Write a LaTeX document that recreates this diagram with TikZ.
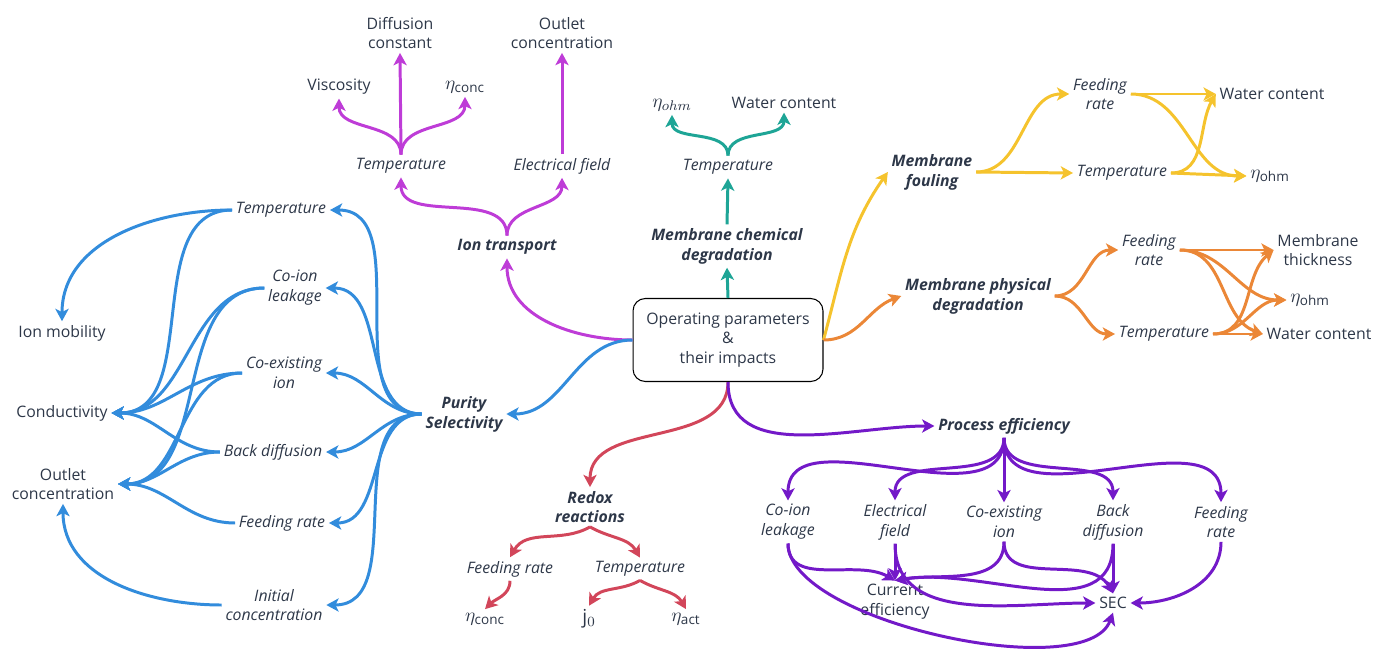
\documentclass[tikz,border=0pt]{standalone}
\usepackage{fontspec}
\setmainfont{Open Sans}
\usetikzlibrary{arrows.meta}
\definecolor{ink}{RGB}{45,55,72}
\definecolor{iontc}{RGB}{190,60,215}
\definecolor{chemc}{RGB}{30,165,150}
\definecolor{foulc}{RGB}{245,195,45}
\definecolor{physc}{RGB}{235,135,55}
\definecolor{purc}{RGB}{50,140,220}
\definecolor{redc}{RGB}{210,70,90}
\definecolor{procc}{RGB}{115,25,200}
\begin{document}
\begin{tikzpicture}[x=0.02cm,y=-0.02cm,
    lbl/.style={text=ink,align=center,inner sep=2pt,font=\fontsize{9}{11.3}\selectfont},
    par/.style={lbl,font=\fontsize{9}{11.3}\selectfont\itshape},
    hd/.style={lbl,font=\fontsize{9}{11.3}\selectfont\bfseries\itshape},
    sym/.style={lbl,font=\fontsize{11}{13}\selectfont},
    link/.style={-{Stealth[length=7pt,width=7.5pt,inset=1.8pt]},line width=1.7pt}]
  \useasboundingbox (0,0) rectangle (1375,652);

  \node[lbl,draw=black,line width=0.6pt,rounded corners=7pt,minimum width=3.8cm,minimum height=1.66cm] (main) at (728,340) {Operating parameters\\\&\\their impacts};

  %ion transport
  \node[hd] (ion) at (507,247) {Ion transport};
  \node[par] (ittemp) at (401,166) {Temperature};
  \node[par] (itfield) at (562,166) {Electrical field};
  \node[lbl] (itvisc) at (339,87) {Viscosity};
  \node[lbl] (itdiff) at (400,33) {Diffusion\\constant};
  \node[sym] (iteta) at (465,87) {$\eta_{\mathrm{conc}}$};
  \node[lbl] (itout) at (562,33) {Outlet\\concentration};
  \draw[link,iontc] (main.west) to[out=180,in=-90] (ion.south);
  \draw[link,iontc] (ion.north) to[out=90,in=-90] (ittemp.south);
  \draw[link,iontc] (ion.north) to[out=90,in=-90] (itfield.south);
  \draw[link,iontc] (ittemp.north) to[out=90,in=-90] (itvisc.south);
  \draw[link,iontc] (ittemp.north) -- (itdiff.south);
  \draw[link,iontc] (ittemp.north) to[out=90,in=-90] (iteta.south);
  \draw[link,iontc] (itfield.north) -- (itout.south);

  %chemical degradation
  \node[hd] (chem) at (727,246) {Membrane chemical\\degradation};
  \node[par] (chtemp) at (728,167) {Temperature};
  \node[sym] (cheta) at (672,105) {$\eta_{ohm}$};
  \node[lbl] (chwater) at (784,103) {Water content};
  \draw[link,chemc] (main.north) -- (chem.south);
  \draw[link,chemc] (chem.north) -- (chtemp.south);
  \draw[link,chemc] (chtemp.north) to[out=90,in=-90] (cheta.south);
  \draw[link,chemc] (chtemp.north) to[out=90,in=-90] (chwater.south);

  %fouling
  \node[hd] (foul) at (932,172) {Membrane\\fouling};
  \node[par] (fofeed) at (1100,94) {Feeding\\rate};
  \node[par] (fotemp) at (1122,173) {Temperature};
  \node[lbl] (fowater) at (1272,94) {Water content};
  \node[sym] (foeta) at (1270,176) {$\eta_{\mathrm{ohm}}$};
  \draw[link,foulc] (main.east) to[out=75,in=235] (foul.west);
  \draw[link,foulc] (foul.east) to[out=0,in=180] (fofeed.west);
  \draw[link,foulc] (foul.east) -- (fotemp.west);
  \draw[link,foulc] (fofeed.east) -- (fowater.west);
  \draw[link,foulc] (fofeed.east) to[out=0,in=180] (foeta.west);
  \draw[link,foulc] (fotemp.east) -- (foeta.west);
  \draw[link,foulc] (fotemp.east) to[out=0,in=240] (fowater.west);

  %physical degradation
  \node[hd] (phys) at (978,296) {Membrane physical\\degradation};
  \node[par] (phfeed) at (1149,250) {Feeding\\rate};
  \node[par] (phtemp) at (1164,334) {Temperature};
  \node[lbl] (phthick) at (1318,250) {Membrane\\thickness};
  \node[sym] (pheta) at (1310,300) {$\eta_{\mathrm{ohm}}$};
  \node[lbl] (phwater) at (1319,334) {Water content};
  \draw[link,physc] (main.east) to[out=0,in=200] (phys.west);
  \draw[link,physc] (phys.east) to[out=0,in=180] (phfeed.west);
  \draw[link,physc] (phys.east) to[out=0,in=180] (phtemp.west);
  \draw[link,physc] (phfeed.east) -- (phthick.west);
  \draw[link,physc] (phfeed.east) to[out=0,in=180] (pheta.west);
  \draw[link,physc] (phfeed.east) to[out=0,in=160] (phwater.west);
  \draw[link,physc] (phtemp.east) -- (phwater.west);
  \draw[link,physc] (phtemp.east) to[out=0,in=220] (phthick.west);
  \draw[link,physc] (phtemp.east) to[out=0,in=180] (pheta.west);

  %purity
  \node[hd] (purity) at (464,414) {Purity\\Selectivity};
  \node[par] (putemp) at (281,210) {Temperature};
  \node[par] (pucoion) at (295,288) {Co-ion\\leakage};
  \node[par] (pucoex) at (284,373) {Co-existing\\ion};
  \node[par] (puback) at (273,452) {Back diffusion};
  \node[par] (pufeed) at (282,523) {Feeding rate};
  \node[par] (puinit) at (274,605) {Initial\\concentration};
  \node[lbl] (pumob) at (62,333) {Ion mobility};
  \node[lbl] (pucond) at (62,413) {Conductivity};
  \node[lbl] (puout) at (63,484) {Outlet\\concentration};
  \draw[link,purc] (main.west) to[out=180,in=0] (purity.east);
  \draw[link,purc] (purity.west) to[out=180,in=0] (putemp.east);
  \draw[link,purc] (purity.west) to[out=180,in=0] (pucoion.east);
  \draw[link,purc] (purity.west) to[out=180,in=0] (pucoex.east);
  \draw[link,purc] (purity.west) to[out=180,in=0] (puback.east);
  \draw[link,purc] (purity.west) to[out=180,in=0] (pufeed.east);
  \draw[link,purc] (purity.west) to[out=180,in=0] (puinit.east);
  \draw[link,purc] (putemp.west) to[out=180,in=90] (pumob.north);
  \draw[link,purc] (putemp.west) to[out=180,in=0] (pucond.east);
  \draw[link,purc] (pucoion.west) to[out=180,in=0] (pucond.east);
  \draw[link,purc] (pucoion.west) to[out=180,in=0] (puout.east);
  \draw[link,purc] (pucoex.west) to[out=180,in=0] (pucond.east);
  \draw[link,purc] (pucoex.west) to[out=180,in=0] (puout.east);
  \draw[link,purc] (puback.west) to[out=180,in=0] (pucond.east);
  \draw[link,purc] (puback.west) to[out=180,in=0] (puout.east);
  \draw[link,purc] (pufeed.west) to[out=180,in=0] (puout.east);
  \draw[link,purc] (puinit.west) to[out=180,in=-90] (puout.south);

  %redox
  \node[hd] (redox) at (590,507) {Redox\\reactions};
  \node[par] (rxfeed) at (510,569) {Feeding rate};
  \node[par] (rxtemp) at (640,569) {Temperature};
  \node[sym] (rxconc) at (485,619) {$\eta_{\mathrm{conc}}$};
  \node[sym] (rxj) at (589,619) {$\mathrm{j}_{0}$};
  \node[sym] (rxact) at (686,619) {$\eta_{\mathrm{act}}$};
  \draw[link,redc] (main.south) to[out=-90,in=90] (redox.north);
  \draw[link,redc] (redox.south) to[out=-150,in=60] (rxfeed.north);
  \draw[link,redc] (redox.south) to[out=-30,in=120] (rxtemp.north);
  \draw[link,redc] (rxfeed.south) to[out=-90,in=45] (rxconc.north);
  \draw[link,redc] (rxtemp.south) to[out=-150,in=60] (rxj.north);
  \draw[link,redc] (rxtemp.south) to[out=-30,in=120] (rxact.north);

  %process efficiency
  \node[hd] (proc) at (1004,426) {Process efficiency};
  \node[par] (pecoion) at (788,522) {Co-ion\\leakage};
  \node[par] (pefield) at (895,522) {Electrical\\field};
  \node[par] (pecoex) at (1004,522) {Co-existing\\ion};
  \node[par] (peback) at (1113,522) {Back\\diffusion};
  \node[par] (pefeed) at (1221,522) {Feeding\\rate};
  \node[lbl] (pecurr) at (895,602) {Current\\efficiency};
  \node[lbl] (pesec) at (1113,603) {SEC};
  \draw[link,procc] (main.south) to[out=-90,in=180] (proc.west);
  \draw[link,procc] (proc.south) to[out=-90,in=90] (pecoion.north);
  \draw[link,procc] (proc.south) to[out=-90,in=90] (pefield.north);
  \draw[link,procc] (proc.south) -- (pecoex.north);
  \draw[link,procc] (proc.south) to[out=-90,in=90] (peback.north);
  \draw[link,procc] (proc.south) to[out=-90,in=90] (pefeed.north);
  \draw[link,procc] (pecoion.south) to[out=-90,in=150] (pecurr.north);
  \draw[link,procc] (pecoion.south) to[out=-90,in=-110,looseness=0.6] (pesec.south);
  \draw[link,procc] (pefield.south) -- (pecurr.north);
  \draw[link,procc] (pefield.south) to[out=-90,in=180] (pesec.west);
  \draw[link,procc] (pecoex.south) to[out=-90,in=10] (pecurr.north);
  \draw[link,procc] (pecoex.south) to[out=-90,in=120] (pesec.north);
  \draw[link,procc] (peback.south) to[out=-90,in=10] (pecurr.north);
  \draw[link,procc] (peback.south) -- (pesec.north);
  \draw[link,procc] (pefeed.south) to[out=-90,in=0] (pesec.east);
\end{tikzpicture}
\end{document}
